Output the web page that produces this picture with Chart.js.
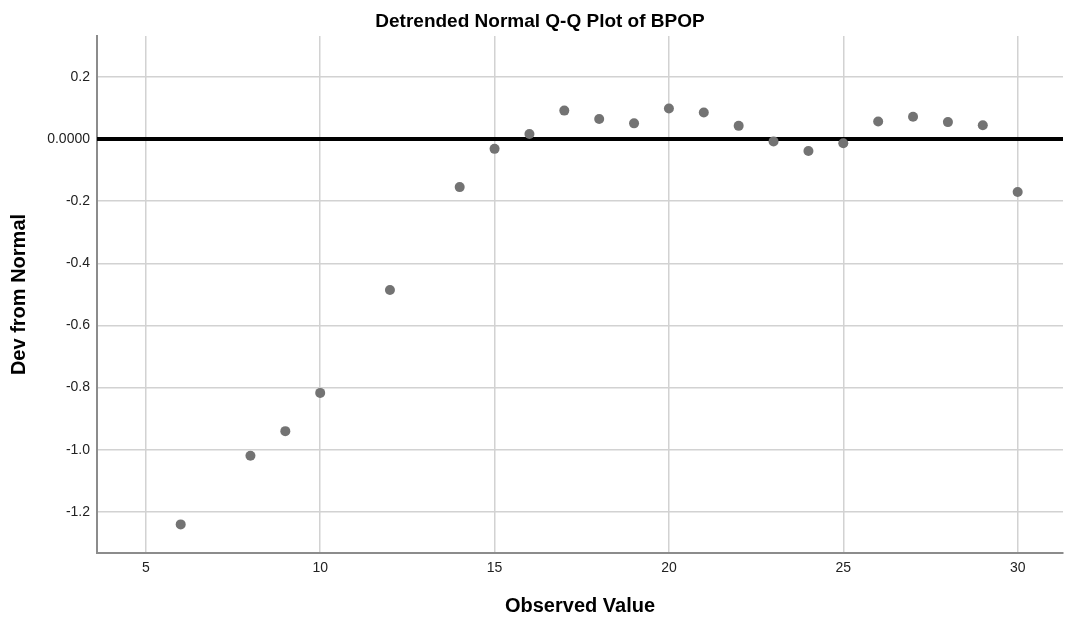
<!DOCTYPE html>
<html>
<head>
<meta charset="utf-8">
<script src="https://cdn.jsdelivr.net/npm/chart.js@4"></script>
<style>
  html, body { margin: 0; padding: 0; background: #fff; }
  canvas { display: block; }
</style>
</head>
<body>
<canvas id="qqChart" width="1068" height="623"></canvas>
<script>
const observed = [6, 8, 9, 10, 12, 14, 15, 16, 17, 18, 19, 20, 21, 22, 23, 24, 25, 26, 27, 28, 29, 30]
const devFromNormal = [-1.240, -1.019, -0.940, -0.817, -0.486, -0.155, -0.032, 0.016, 0.091, 0.064, 0.050,
  0.098, 0.085, 0.042, -0.008, -0.039, -0.014, 0.056, 0.071, 0.054, 0.044, -0.171]

// Axis ticks
const xTicks = [5, 10, 15, 20, 25, 30]
const yTicks = [-1.2, -1.0, -0.8, -0.6, -0.4, -0.2, 0, 0.2]
const yTickLabels = ['-1.2', '-1.0', '-0.8', '-0.6', '-0.4', '-0.2', '0.0000', '0.2']

// Axis ranges and the horizontal reference line at zero
const xRange = [3.6, 31.3]
const yRange = [-1.332, 0.331]
const refLine = [{x: xRange[0], y: 0}, {x: xRange[1], y: 0}]

const points = observed.map((v, i) => ({x: v, y: devFromNormal[i]}))

// Main title drawn a bit left of the canvas centre, like the original
const titlePlugin = {
  id: 'plotTitle',
  afterDraw(chart) {
    const ctx = chart.ctx
    ctx.save()
    ctx.font = 'bold 19px "Liberation Sans", Arial, sans-serif'
    ctx.fillStyle = '#000'
    ctx.textAlign = 'center'
    ctx.textBaseline = 'alphabetic'
    ctx.fillText('Detrended Normal Q-Q Plot of BPOP', 540, 27)
    ctx.restore()
  }
}

const ctx = document.getElementById('qqChart').getContext('2d')
const qqChart = new Chart(ctx, {
  type: 'scatter',
  data: {
    datasets: [{
      label: 'Dev from Normal',
      data: points,
      backgroundColor: '#737373',
      borderWidth: 0,
      pointRadius: 5,
      pointHoverRadius: 5,
      order: 1
    },
    {
      label: 'Zero',
      type: 'line',
      data: refLine,
      borderColor: '#000',
      borderWidth: 4,
      pointRadius: 0,
      fill: false,
      order: 2
    }]
  },
  options: {
    responsive: false,
    animation: false,
    devicePixelRatio: 1,
    layout: {
      padding: {top: 36, left: 0, right: 0, bottom: 0}
    },
    plugins: {
      legend: {display: false},
      tooltip: {enabled: false},
      title: {display: false}
    },
    scales: {
      x: {
        type: 'linear',
        min: xRange[0],
        max: xRange[1],
        afterBuildTicks: (scale) => { scale.ticks = xTicks.map(v => ({value: v})) },
        afterFit: (scale) => { scale.height = 70 },
        ticks: {
          padding: 7,
          color: '#222',
          font: {family: '"Liberation Sans", Arial, sans-serif', size: 14}
        },
        grid: {color: '#d2d2d2', lineWidth: 1.5, drawTicks: false},
        border: {display: true, color: '#8c8c8c', width: 2},
        title: {
          display: true,
          text: 'Observed Value',
          color: '#000',
          padding: {top: 0, bottom: 5},
          font: {family: '"Liberation Sans", Arial, sans-serif', size: 20, weight: 'bold'}
        }
      },
      y: {
        type: 'linear',
        min: yRange[0],
        max: yRange[1],
        afterBuildTicks: (scale) => { scale.ticks = yTicks.map(v => ({value: v})) },
        afterFit: (scale) => { scale.width = 97 },
        ticks: {
          padding: 7,
          color: '#222',
          font: {family: '"Liberation Sans", Arial, sans-serif', size: 14},
          callback: (value, index) => yTickLabels[index]
        },
        grid: {color: '#d2d2d2', lineWidth: 1.5, drawTicks: false},
        border: {display: true, color: '#8c8c8c', width: 2},
        title: {
          display: true,
          text: 'Dev from Normal',
          color: '#000',
          padding: {top: 7, bottom: 0},
          font: {family: '"Liberation Sans", Arial, sans-serif', size: 20, weight: 'bold'}
        }
      }
    }
  },
  plugins: [titlePlugin]
})
</script>
</body>
</html>
